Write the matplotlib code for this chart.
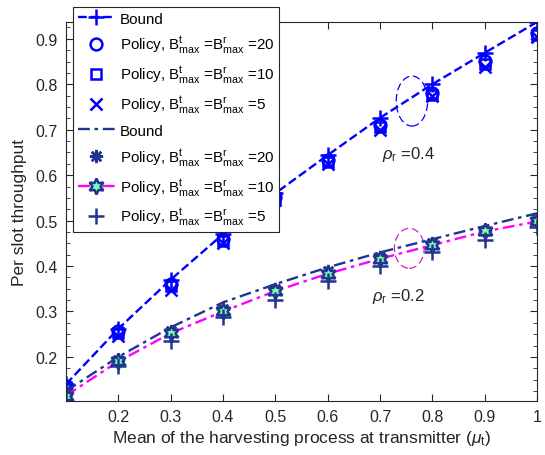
import matplotlib
matplotlib.use("Agg")
import matplotlib.pyplot as plt
from matplotlib.patches import Ellipse
from matplotlib.ticker import MultipleLocator, FixedLocator

plt.rcParams['font.family'] = ['Liberation Sans', 'DejaVu Sans']
plt.rcParams['mathtext.fontset'] = 'custom'
plt.rcParams['mathtext.rm'] = 'Liberation Sans'
plt.rcParams['mathtext.it'] = 'Liberation Sans:italic'

mu_t = [0.1, 0.2, 0.3, 0.4, 0.5, 0.6, 0.7, 0.8, 0.9, 1.0]

# rho_r = 0.4
bound_04 = [0.140, 0.262, 0.370, 0.470, 0.560, 0.644, 0.726, 0.800, 0.869, 0.937]
pol20_04 = [0.136, 0.256, 0.361, 0.460, 0.552, 0.633, 0.710, 0.781, 0.851, 0.913]
pol10_04 = [0.133, 0.252, 0.357, 0.456, 0.549, 0.629, 0.705, 0.777, 0.845, 0.908]
pol5_04 = [0.128, 0.246, 0.348, 0.450, 0.545, 0.625, 0.700, 0.774, 0.838, 0.903]

# rho_r = 0.2
bound_02 = [0.125, 0.200, 0.265, 0.320, 0.360, 0.397, 0.430, 0.459, 0.488, 0.516]
pol20_02 = [0.118, 0.194, 0.257, 0.305, 0.350, 0.388, 0.420, 0.450, 0.478, 0.503]
pol10_02 = [0.115, 0.190, 0.252, 0.300, 0.345, 0.383, 0.416, 0.446, 0.476, 0.498]
pol5_02 = [0.103, 0.181, 0.236, 0.288, 0.326, 0.366, 0.399, 0.430, 0.457, 0.485]

xticks = [0.2, 0.3, 0.4, 0.5, 0.6, 0.7, 0.8, 0.9, 1.0]
xticklabels = ['0.2', '0.3', '0.4', '0.5', '0.6', '0.7', '0.8', '0.9', '1']

blue = '#0000ff'
navy = '#1f3590'
magenta = '#ff00ff'
green = '#7dffa8'

fig = plt.figure(figsize=(5.45, 4.56), dpi=100)
ax = fig.add_axes([66/545, 1-402/456, (537-66)/545, (402-23)/456])

lab = r'Policy, B$^{\mathrm{t}}_{\mathrm{max}}$ =B$^{\mathrm{r}}_{\mathrm{max}}$ ='

ax.plot(mu_t, bound_04, '--', color=blue, lw=1.7, marker='+', ms=11, mew=1.8, label='Bound')
ax.plot(mu_t, pol20_04, 'o', color=blue, mfc='none', ms=8.5, mew=1.8, linestyle='none', label=lab + '20')
ax.plot(mu_t, pol10_04, 's', color=blue, mfc='none', ms=7.5, mew=1.8, linestyle='none', label=lab + '10')
ax.plot(mu_t, pol5_04, 'x', color=blue, ms=8.5, mew=1.8, linestyle='none', label=lab + '5')

ax.plot(mu_t, bound_02, linestyle=(0, (5, 2, 1.5, 2)), color=navy, lw=1.7, label='Bound')
ax.plot(mu_t, pol20_02, linestyle='none', marker=(8, 2, 0), color=navy, ms=9.5, mew=1.8, label=lab + '20')
ax.plot(mu_t, pol10_02, linestyle=(0, (5, 2, 1.5, 2)), color=magenta, lw=1.7, marker=(6, 1, 0),
        mfc=green, mec=navy, ms=11.5, mew=1.8, label=lab + '10')
ax.plot(mu_t, pol5_02, linestyle='none', marker='+', color=navy, ms=11.5, mew=1.8, label=lab + '5')

ax.add_patch(Ellipse((0.761, 0.763), 0.06, 0.11, fill=False, ec=blue, lw=0.9, ls=(0, (6, 3))))
ax.add_patch(Ellipse((0.756, 0.439), 0.057, 0.088, fill=False, ec='#d020c0', lw=0.9, ls=(0, (6, 3))))

ax.text(0.703, 0.648, r'$\it{\rho}_{\mathrm{r}}$ =0.4', fontsize=12, va='center', ha='left', color='#262626')
ax.text(0.684, 0.335, r'$\it{\rho}_{\mathrm{r}}$ =0.2', fontsize=12, va='center', ha='left', color='#262626')

allv = bound_04 + pol20_04 + pol10_04 + pol5_04 + bound_02 + pol20_02 + pol10_02 + pol5_02
ax.set_xlim(min(mu_t), max(mu_t))
ax.set_ylim(min(allv), max(allv))
ax.xaxis.set_major_locator(FixedLocator(xticks))
ax.set_xticklabels(xticklabels)
ax.yaxis.set_major_locator(MultipleLocator(0.1))
ax.yaxis.set_minor_locator(MultipleLocator(0.025))
ax.tick_params(which='both', direction='in', top=True, right=True, colors='#262626', labelsize=11.5)
ax.tick_params(which='major', length=5, width=0.8, pad=6)
ax.tick_params(which='minor', length=3, width=0.6)
for s in ax.spines.values():
    s.set_color('#262626')
    s.set_linewidth(0.8)

ax.set_xlabel(r'Mean of the harvesting process at transmitter ($\it{\mu}_{\mathrm{t}}$)', fontsize=12.5, color='#262626', labelpad=3)
ax.set_ylabel('Per slot throughput', fontsize=12.5, color='#262626', labelpad=6)

leg = ax.legend(loc='upper left', bbox_to_anchor=(73/545, 1-8/456), bbox_transform=fig.transFigure,
                fontsize=10.9, frameon=True, fancybox=False, edgecolor='#262626', framealpha=1,
                borderaxespad=0, handlelength=2.5, handletextpad=0.3, labelspacing=0.55,
                borderpad=0.3, numpoints=1)
leg.get_frame().set_linewidth(0.8)
leg.set_zorder(5)

fig.savefig('out.png', dpi=100)
